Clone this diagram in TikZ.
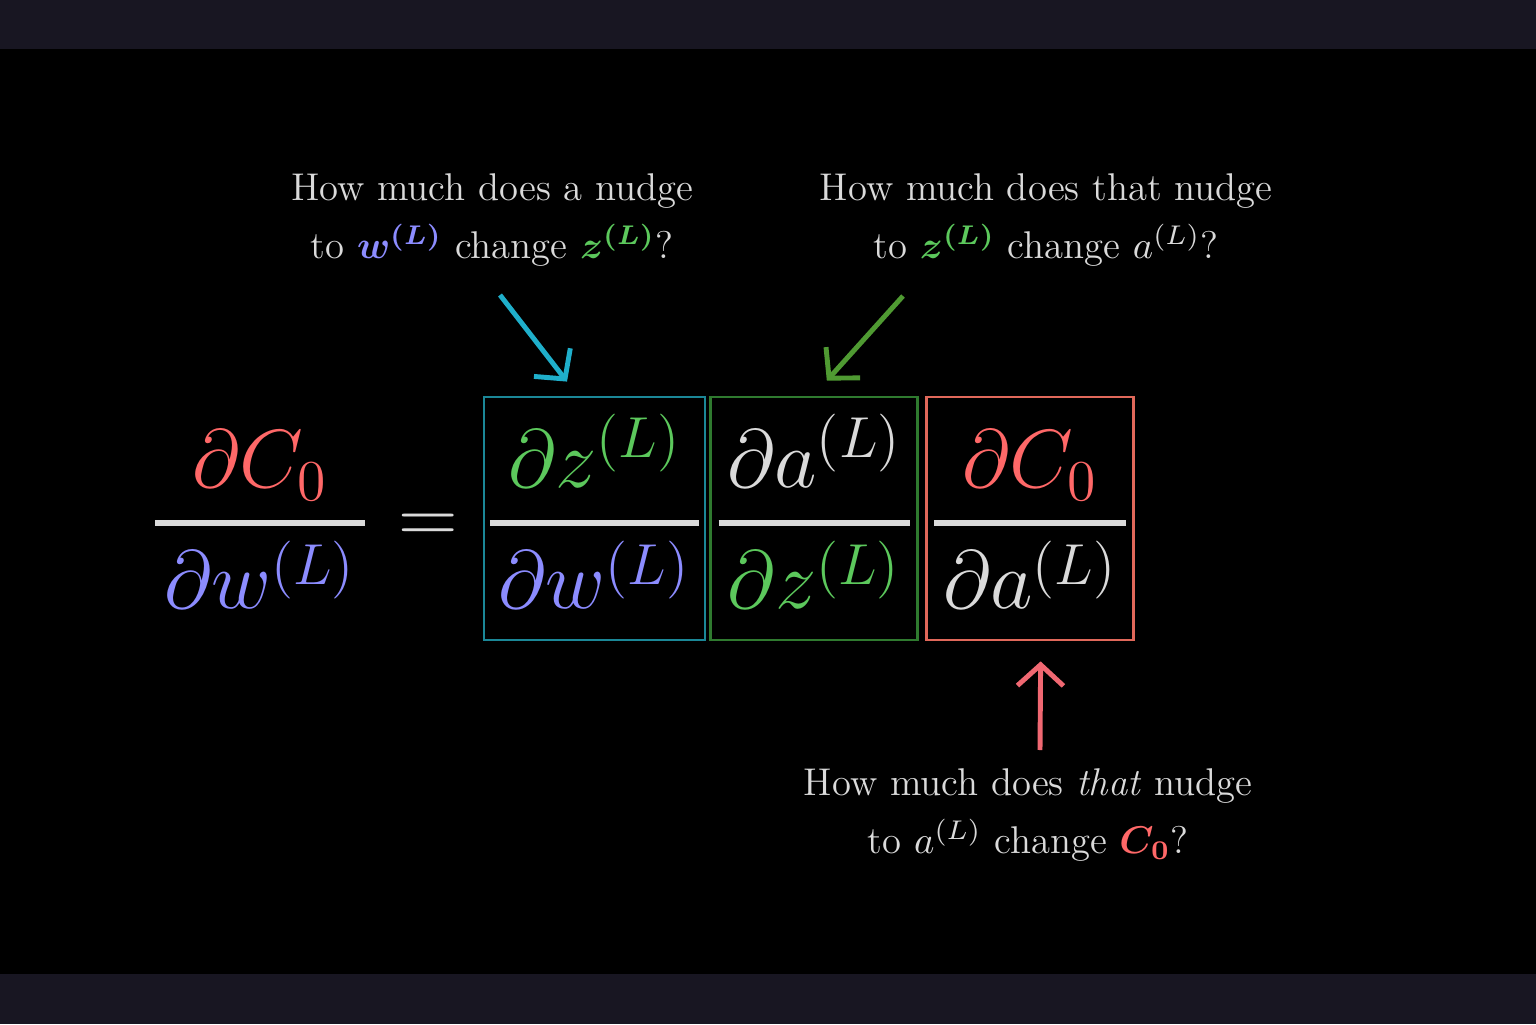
\RequirePackage{fix-cm}
\documentclass[tikz,border=0pt]{standalone}
\usepackage{amsmath}
\usetikzlibrary{positioning, arrows.meta}

\definecolor{BarColour}{RGB}{24,22,34}
\definecolor{TextGray}{RGB}{218,218,218}
\definecolor{WeightBlue}{RGB}{140,140,255}
\definecolor{SumGreen}{RGB}{92,200,92}
\definecolor{CostRed}{RGB}{255,104,104}
\definecolor{BoxTeal}{RGB}{27,135,151}
\definecolor{BoxGreen}{RGB}{47,122,47}
\definecolor{BoxRed}{RGB}{224,104,90}
\definecolor{ArrowCyan}{RGB}{31,175,203}
\definecolor{ArrowGreen}{RGB}{79,154,50}
\definecolor{ArrowRed}{RGB}{240,104,114}

% bar a little wider than its parts
\newcommand{\pfrac}[2]{\genfrac{}{}{1.5pt}{0}{\hspace{2.5pt}#1\hspace{2.5pt}}{\hspace{2.5pt}#2\hspace{2.5pt}}}
\newcommand{\dC}{{\color{CostRed}\partial C_0}}
\newcommand{\dw}{{\color{WeightBlue}\partial w^{(L)}}}
\newcommand{\dz}{{\color{SumGreen}\partial z^{(L)}}}
\newcommand{\da}{\partial a^{(L)}}

\begin{document}
\begin{tikzpicture}[
    question/.style = {text=TextGray, align=center, font=\fontsize{11}{16.5}\selectfont},
    bigmath/.style = {text=TextGray, font=\fontsize{23.5}{28}\selectfont},
    % fixed height and depth, so the fraction bar sits just under the middle
    fracpart/.style = {bigmath, inner sep=0pt, text height=1.4665cm, text depth=0.9635cm},
    factor/.style = {fracpart, draw, line width=0.8pt},
    nudge/.style = {line width=1.4pt, -{Straight Barb[length=2.1mm, width=4.6mm]}}
]

    \fill [BarColour] (0,0) rectangle (15.36,10.24);
    \fill [black] (0,0.50) rectangle (15.36,9.75);

    \node [fracpart] (lhs) at (2.60,5.055) {$\pfrac{\dC}{\dw}$};
    \node [bigmath] (eq) at (4.28,4.955) {$=$};

    \node [factor, draw=BoxTeal, minimum width=2.21cm] (dzdw) at (5.945,5.055) {$\pfrac{\dz}{\dw}$};
    \node [factor, draw=BoxGreen, minimum width=2.07cm, right=0.03cm of dzdw] (dadz) {$\pfrac{\da}{\dz}$};
    \node [factor, draw=BoxRed, minimum width=2.07cm, right=0.06cm of dadz] (dCda) {$\pfrac{\dC}{\da}$};

    \node [question] (howWz) at (4.92,8.04) {How much does a nudge\\
        to {\boldmath\color{WeightBlue}$w^{(L)}$} change {\boldmath\color{SumGreen}$z^{(L)}$}?};
    \node [question] (howZa) at (10.46,8.04) {How much does that nudge\\
        to {\boldmath\color{SumGreen}$z^{(L)}$} change $a^{(L)}$?};
    \node [question] (howAC) at (10.28,2.09) {How much does \textit{that} nudge\\
        to $a^{(L)}$ change {\boldmath\color{CostRed}$C_0$}?};

    \coordinate (wzTail) at (5.00,7.29);
    \coordinate (zaTail) at (9.03,7.28);
    \coordinate (aCTail) at (10.40,2.74);

    \draw [nudge, ArrowCyan] (wzTail) -- ([shift={(-0.275,0.14)}]dzdw.north);
    \draw [nudge, ArrowGreen] (zaTail) -- ([shift={(0.125,0.15)}]dadz.north);
    \draw [nudge, ArrowRed] (aCTail) -- ([shift={(0.105,-0.20)}]dCda.south);

\end{tikzpicture}
\end{document}
